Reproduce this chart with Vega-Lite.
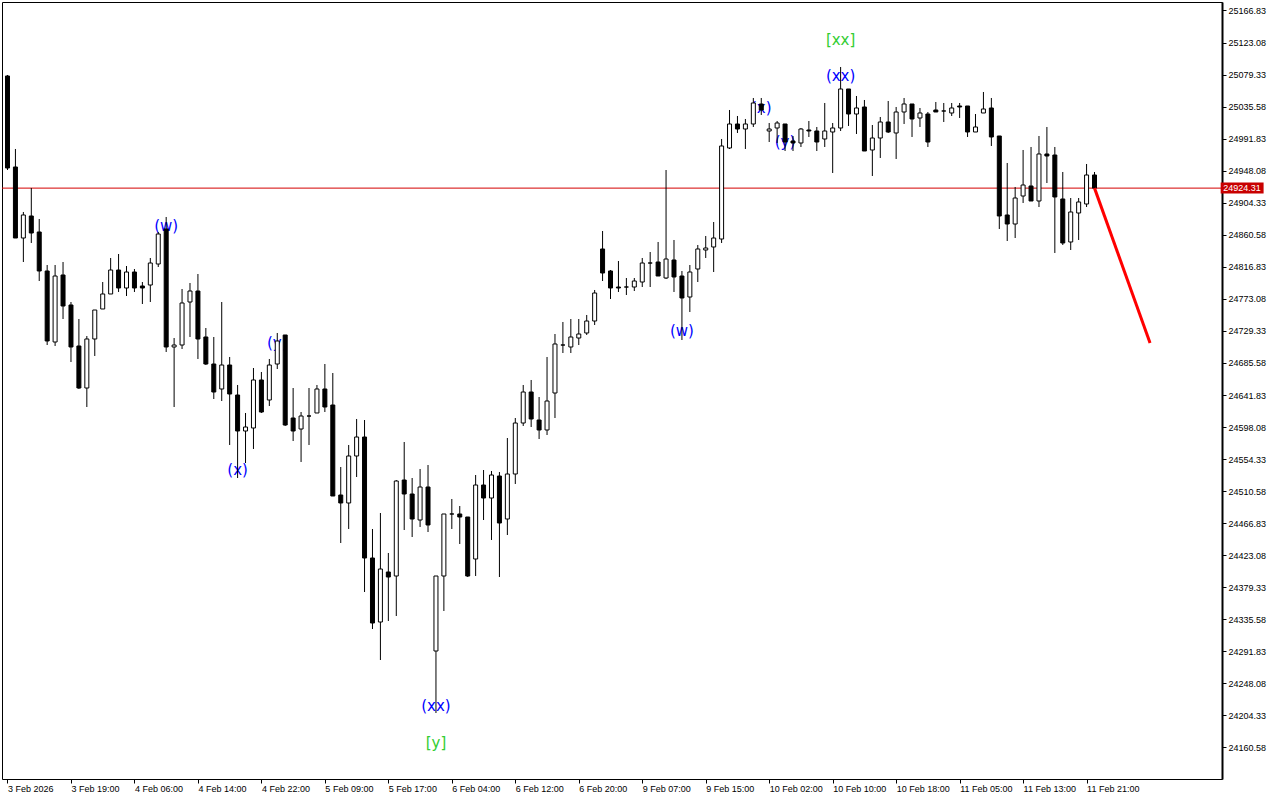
{
  "$schema": "https://vega.github.io/schema/vega-lite/v6.json",
  "autosize": "none",
  "width": 1220,
  "height": 777,
  "padding": {"left": 2, "top": 2, "right": 58, "bottom": 21},
  "background": "white",
  "config": {
    "view": {"stroke": "black", "strokeWidth": 1},
    "axis": {"labelOverlap": false, "labelFlush": false, "labelBound": false, "grid": false, "title": null}
  },
  "datasets": {
    "candles": [
      {"k":0,"o":25077.40,"h":25078.76,"l":24949.05,"c":24951.78},
      {"k":1,"o":24953.15,"h":24977.73,"l":24856.20,"c":24856.20},
      {"k":2,"o":24856.20,"h":24891.71,"l":24823.43,"c":24887.61},
      {"k":3,"o":24886.25,"h":24924.48,"l":24849.38,"c":24863.03},
      {"k":4,"o":24864.40,"h":24882.15,"l":24797.49,"c":24811.15},
      {"k":5,"o":24811.15,"h":24819.34,"l":24710.11,"c":24715.58},
      {"k":6,"o":24714.21,"h":24819.34,"l":24708.75,"c":24804.32},
      {"k":7,"o":24805.69,"h":24823.43,"l":24745.61,"c":24763.36},
      {"k":8,"o":24764.73,"h":24768.82,"l":24686.90,"c":24707.39},
      {"k":9,"o":24708.75,"h":24745.61,"l":24650.04,"c":24651.40},
      {"k":10,"o":24651.40,"h":24722.40,"l":24625.46,"c":24718.31},
      {"k":11,"o":24718.31,"h":24757.90,"l":24695.10,"c":24757.90},
      {"k":12,"o":24759.27,"h":24796.13,"l":24759.27,"c":24779.75},
      {"k":13,"o":24779.75,"h":24828.90,"l":24779.75,"c":24812.51},
      {"k":14,"o":24812.51,"h":24834.36,"l":24782.48,"c":24787.94},
      {"k":15,"o":24787.94,"h":24817.97,"l":24777.01,"c":24809.78},
      {"k":16,"o":24809.78,"h":24813.88,"l":24782.48,"c":24787.94},
      {"k":17,"o":24790.67,"h":24796.13,"l":24766.09,"c":24787.94},
      {"k":18,"o":24792.03,"h":24828.90,"l":24768.82,"c":24822.07},
      {"k":19,"o":24820.70,"h":24864.40,"l":24816.61,"c":24861.67},
      {"k":20,"o":24868.50,"h":24884.88,"l":24700.56,"c":24707.39},
      {"k":21,"o":24707.39,"h":24719.67,"l":24625.46,"c":24710.11},
      {"k":22,"o":24710.11,"h":24786.57,"l":24704.65,"c":24767.46},
      {"k":23,"o":24768.82,"h":24794.76,"l":24721.04,"c":24783.84},
      {"k":24,"o":24783.84,"h":24807.05,"l":24691.00,"c":24718.31},
      {"k":25,"o":24721.04,"h":24733.32,"l":24682.80,"c":24684.17},
      {"k":26,"o":24684.17,"h":24721.04,"l":24636.38,"c":24645.94},
      {"k":27,"o":24650.04,"h":24768.82,"l":24633.65,"c":24682.80},
      {"k":28,"o":24682.80,"h":24693.73,"l":24573.58,"c":24643.21},
      {"k":29,"o":24641.84,"h":24655.50,"l":24528.52,"c":24592.69},
      {"k":30,"o":24592.69,"h":24617.27,"l":24549.00,"c":24598.15},
      {"k":31,"o":24596.79,"h":24678.71,"l":24568.12,"c":24662.33},
      {"k":32,"o":24662.33,"h":24673.25,"l":24617.27,"c":24618.63},
      {"k":33,"o":24635.02,"h":24691.00,"l":24626.83,"c":24682.80},
      {"k":34,"o":24684.17,"h":24726.50,"l":24677.34,"c":24715.58},
      {"k":35,"o":24723.77,"h":24723.77,"l":24599.52,"c":24600.88},
      {"k":36,"o":24610.44,"h":24651.40,"l":24579.03,"c":24592.69},
      {"k":37,"o":24595.42,"h":24618.63,"l":24550.37,"c":24613.17},
      {"k":38,"o":24613.17,"h":24651.40,"l":24573.58,"c":24613.17},
      {"k":39,"o":24617.27,"h":24655.50,"l":24617.27,"c":24650.04},
      {"k":40,"o":24650.04,"h":24684.17,"l":24618.63,"c":24625.46},
      {"k":41,"o":24628.19,"h":24671.88,"l":24503.94,"c":24503.94},
      {"k":42,"o":24505.31,"h":24543.54,"l":24439.77,"c":24494.39},
      {"k":43,"o":24494.39,"h":24573.58,"l":24458.89,"c":24558.56},
      {"k":44,"o":24558.56,"h":24609.08,"l":24529.88,"c":24584.50},
      {"k":45,"o":24584.50,"h":24607.71,"l":24372.87,"c":24419.29},
      {"k":46,"o":24419.29,"h":24458.89,"l":24322.35,"c":24330.54},
      {"k":47,"o":24331.91,"h":24480.73,"l":24280.02,"c":24404.27},
      {"k":48,"o":24400.18,"h":24426.12,"l":24333.27,"c":24393.35},
      {"k":49,"o":24394.71,"h":24525.79,"l":24340.10,"c":24524.42},
      {"k":50,"o":24525.79,"h":24577.67,"l":24457.52,"c":24506.67},
      {"k":51,"o":24506.67,"h":24528.52,"l":24447.96,"c":24472.54},
      {"k":52,"o":24471.17,"h":24540.81,"l":24461.62,"c":24516.23},
      {"k":53,"o":24516.23,"h":24546.27,"l":24454.79,"c":24464.35},
      {"k":54,"o":24292.31,"h":24394.71,"l":24207.66,"c":24394.71},
      {"k":55,"o":24394.71,"h":24479.37,"l":24346.93,"c":24479.37},
      {"k":56,"o":24479.37,"h":24499.85,"l":24458.89,"c":24479.37},
      {"k":57,"o":24479.37,"h":24490.29,"l":24438.40,"c":24475.27},
      {"k":58,"o":24475.27,"h":24475.27,"l":24393.35,"c":24394.71},
      {"k":59,"o":24417.92,"h":24532.61,"l":24394.71,"c":24518.96},
      {"k":60,"o":24518.96,"h":24539.44,"l":24471.17,"c":24501.21},
      {"k":61,"o":24501.21,"h":24538.08,"l":24443.87,"c":24532.61},
      {"k":62,"o":24531.25,"h":24536.71,"l":24393.35,"c":24467.08},
      {"k":63,"o":24472.54,"h":24583.13,"l":24450.69,"c":24533.98},
      {"k":64,"o":24533.98,"h":24610.44,"l":24520.33,"c":24603.61},
      {"k":65,"o":24603.61,"h":24655.50,"l":24599.52,"c":24645.94},
      {"k":66,"o":24645.94,"h":24662.33,"l":24598.15,"c":24609.08},
      {"k":67,"o":24607.71,"h":24639.11,"l":24581.77,"c":24594.06},
      {"k":68,"o":24594.06,"h":24693.73,"l":24587.23,"c":24633.65},
      {"k":69,"o":24644.57,"h":24725.13,"l":24610.44,"c":24711.48},
      {"k":70,"o":24710.11,"h":24741.52,"l":24699.19,"c":24710.11},
      {"k":71,"o":24707.39,"h":24745.61,"l":24699.19,"c":24721.04},
      {"k":72,"o":24719.67,"h":24745.61,"l":24710.11,"c":24725.13},
      {"k":73,"o":24726.50,"h":24751.08,"l":24723.77,"c":24742.88},
      {"k":74,"o":24742.88,"h":24785.21,"l":24737.42,"c":24781.11},
      {"k":75,"o":24841.19,"h":24865.76,"l":24797.49,"c":24808.42},
      {"k":76,"o":24811.15,"h":24812.51,"l":24772.92,"c":24787.94},
      {"k":77,"o":24789.30,"h":24824.80,"l":24782.48,"c":24787.94},
      {"k":78,"o":24789.30,"h":24801.59,"l":24778.38,"c":24789.30},
      {"k":79,"o":24789.30,"h":24801.59,"l":24783.84,"c":24797.49},
      {"k":80,"o":24796.13,"h":24828.90,"l":24789.30,"c":24822.07},
      {"k":81,"o":24822.07,"h":24837.09,"l":24789.30,"c":24822.07},
      {"k":82,"o":24823.43,"h":24850.75,"l":24804.32,"c":24804.32},
      {"k":83,"o":24801.59,"h":24949.05,"l":24800.23,"c":24827.53},
      {"k":84,"o":24826.17,"h":24853.48,"l":24782.48,"c":24802.96},
      {"k":85,"o":24804.32,"h":24811.15,"l":24716.94,"c":24774.29},
      {"k":86,"o":24775.65,"h":24819.34,"l":24755.17,"c":24809.78},
      {"k":87,"o":24813.88,"h":24846.65,"l":24796.13,"c":24841.19},
      {"k":88,"o":24839.82,"h":24858.94,"l":24828.90,"c":24842.55},
      {"k":89,"o":24843.92,"h":24878.05,"l":24809.78,"c":24856.20},
      {"k":90,"o":24854.84,"h":24991.38,"l":24849.38,"c":24981.82},
      {"k":91,"o":24979.09,"h":25030.98,"l":24977.73,"c":25011.86},
      {"k":92,"o":25011.86,"h":25022.78,"l":24999.57,"c":25005.03},
      {"k":93,"o":25005.03,"h":25018.69,"l":24977.73,"c":25011.86},
      {"k":94,"o":25011.86,"h":25047.36,"l":25007.77,"c":25040.53},
      {"k":95,"o":25039.17,"h":25047.36,"l":25024.15,"c":25030.98},
      {"k":96,"o":25002.30,"h":25013.23,"l":24987.28,"c":25005.03},
      {"k":97,"o":25006.40,"h":25015.96,"l":24985.92,"c":25013.23},
      {"k":98,"o":25011.86,"h":25011.86,"l":24974.99,"c":24987.28},
      {"k":99,"o":24988.65,"h":24995.48,"l":24974.99,"c":24985.92},
      {"k":100,"o":24985.92,"h":25006.40,"l":24980.46,"c":25005.03},
      {"k":101,"o":25003.67,"h":25015.96,"l":24994.11,"c":25002.30},
      {"k":102,"o":25002.30,"h":25007.77,"l":24974.99,"c":24987.28},
      {"k":103,"o":24991.38,"h":25040.53,"l":24980.46,"c":25002.30},
      {"k":104,"o":25000.94,"h":25013.23,"l":24944.96,"c":25006.40},
      {"k":105,"o":25006.40,"h":25089.69,"l":25002.30,"c":25059.65},
      {"k":106,"o":25059.65,"h":25059.65,"l":25009.13,"c":25025.51},
      {"k":107,"o":25025.51,"h":25050.09,"l":24998.21,"c":25033.71},
      {"k":108,"o":25035.07,"h":25044.63,"l":24974.99,"c":24974.99},
      {"k":109,"o":24976.36,"h":25010.50,"l":24940.86,"c":24992.74},
      {"k":110,"o":24992.74,"h":25021.42,"l":24965.44,"c":25014.59},
      {"k":111,"o":25014.59,"h":25043.26,"l":24999.57,"c":25000.94},
      {"k":112,"o":24999.57,"h":25035.07,"l":24964.07,"c":25028.25},
      {"k":113,"o":25028.25,"h":25047.36,"l":25011.86,"c":25039.17},
      {"k":114,"o":25039.17,"h":25039.17,"l":24994.11,"c":25018.69},
      {"k":115,"o":25020.05,"h":25033.71,"l":25007.77,"c":25026.88},
      {"k":116,"o":25025.51,"h":25028.25,"l":24980.46,"c":24987.28},
      {"k":117,"o":25030.98,"h":25041.90,"l":25028.25,"c":25028.25},
      {"k":118,"o":25029.61,"h":25040.53,"l":25014.59,"c":25029.61},
      {"k":119,"o":25026.88,"h":25040.53,"l":25022.78,"c":25033.71},
      {"k":120,"o":25036.44,"h":25040.53,"l":25020.05,"c":25035.07},
      {"k":121,"o":25036.44,"h":25036.44,"l":24994.11,"c":25000.94},
      {"k":122,"o":25000.94,"h":25025.51,"l":25000.94,"c":25007.77},
      {"k":123,"o":25026.88,"h":25055.55,"l":25026.88,"c":25032.34},
      {"k":124,"o":25033.71,"h":25047.36,"l":24981.82,"c":24994.11},
      {"k":125,"o":24995.48,"h":24995.48,"l":24868.50,"c":24886.25},
      {"k":126,"o":24887.61,"h":24958.61,"l":24852.11,"c":24875.32},
      {"k":127,"o":24875.32,"h":24925.84,"l":24856.20,"c":24910.82},
      {"k":128,"o":24913.55,"h":24976.36,"l":24904.00,"c":24928.57},
      {"k":129,"o":24927.21,"h":24980.46,"l":24906.73,"c":24906.73},
      {"k":130,"o":24906.73,"h":24995.48,"l":24898.53,"c":24970.90},
      {"k":131,"o":24970.90,"h":25007.77,"l":24931.30,"c":24968.17},
      {"k":132,"o":24969.53,"h":24980.46,"l":24835.73,"c":24912.19},
      {"k":133,"o":24909.46,"h":24946.32,"l":24846.65,"c":24849.38},
      {"k":134,"o":24850.75,"h":24910.82,"l":24839.82,"c":24891.71},
      {"k":135,"o":24890.34,"h":24910.82,"l":24853.48,"c":24905.36},
      {"k":136,"o":24902.63,"h":24957.25,"l":24898.53,"c":24942.23},
      {"k":137,"o":24942.23,"h":24946.32,"l":24924.31,"c":24924.31}
    ],
    "waves": [
      {"k":20,"p":24872.59,"label":"(w)","degree":"minor"},
      {"k":29,"p":24539.44,"label":"(x)","degree":"minor"},
      {"k":34,"p":24712.84,"label":"(y)","degree":"minor"},
      {"k":54,"p":24217.22,"label":"(xx)","degree":"minor"},
      {"k":54,"p":24166.70,"label":"[y]","degree":"major"},
      {"k":85,"p":24729.23,"label":"(w)","degree":"minor"},
      {"k":95,"p":25033.71,"label":"(x)","degree":"minor"},
      {"k":98,"p":24987.28,"label":"(y)","degree":"minor"},
      {"k":105,"p":25077.40,"label":"(xx)","degree":"minor"},
      {"k":105,"p":25126.55,"label":"[xx]","degree":"major"}
    ],
    "bid": [{"price": 24924.31}],
    "proj": [
      {"k":137,"p":24924.31},
      {"k":144,"p":24712.84}
    ]
  },
  "encoding": {
    "x": {"type": "quantitative",
          "scale": {"domain": [-0.0625, 152.4375], "nice": false, "zero": false},
          "axis": {
            "orient": "bottom", "title": null,
            "values": [0,8,16,24,32,40,48,56,64,72,80,88,96,104,112,120,128,136],
            "labelExpr": "['3 Feb 2026','3 Feb 19:00','4 Feb 06:00','4 Feb 14:00','4 Feb 22:00','5 Feb 09:00','5 Feb 17:00','6 Feb 04:00','6 Feb 12:00','6 Feb 20:00','9 Feb 07:00','9 Feb 15:00','10 Feb 02:00','10 Feb 10:00','10 Feb 18:00','11 Feb 05:00','11 Feb 13:00','11 Feb 21:00'][round(datum.value/8)]",
            "labelAlign": "left", "labelBaseline": "top", "labelPadding": 1,
            "labelFont": "Liberation Sans", "labelFontSize": 9, "labelColor": "black",
            "labelOverlap": false, "labelFlush": false, "labelBound": false,
            "tickSize": 4, "tickColor": "black", "domain": false, "grid": false
          }},
    "y": {"type": "quantitative",
          "scale": {"domain": [24117.55, 25178.43], "nice": false, "zero": false},
          "axis": {
            "orient": "right", "title": null,
            "values": [25166.83,25123.08,25079.33,25035.58,24991.83,24948.08,24904.33,24860.58,24816.83,24773.08,24729.33,24685.58,24641.83,24598.08,24554.33,24510.58,24466.83,24423.08,24379.33,24335.58,24291.83,24248.08,24204.33,24160.58],
            "format": ".2f",
            "labelFont": "Liberation Sans", "labelFontSize": 9, "labelColor": "black",
            "labelPadding": 2, "labelOverlap": false, "labelFlush": false, "labelBound": false,
            "tickSize": 4, "tickColor": "black",
            "domain": true, "domainColor": "black", "domainWidth": 2, "grid": false
          }}
  },
  "layer": [
    {
      "data": {"name": "waves"},
      "mark": {"type": "text", "font": "DejaVu Sans", "fontSize": 15, "align": "center", "baseline": "middle"},
      "encoding": {
        "x": {"field": "k"},
        "y": {"field": "p"},
        "text": {"field": "label"},
        "color": {"field": "degree", "type": "nominal",
                  "scale": {"domain": ["minor", "major"], "range": ["#0000ff", "#32cd32"]},
                  "legend": null}
      }
    },
    {
      "data": {"name": "bid"},
      "mark": {"type": "rule", "color": "#d40000", "strokeWidth": 1},
      "encoding": {"x": null, "y": {"field": "price"}}
    },
    {
      "data": {"name": "candles"},
      "mark": {"type": "rule", "color": "black", "strokeWidth": 1},
      "encoding": {
        "x": {"field": "k"},
        "y": {"field": "l"},
        "y2": {"field": "h"}
      }
    },
    {
      "data": {"name": "candles"},
      "mark": {"type": "bar", "width": 4, "stroke": "black", "strokeWidth": 1},
      "encoding": {
        "x": {"field": "k"},
        "y": {"field": "o"},
        "y2": {"field": "c"},
        "fill": {"condition": {"test": "datum.c < datum.o", "value": "black"}, "value": "white"}
      }
    },
    {
      "data": {"name": "proj"},
      "mark": {"type": "line", "color": "#ff0000", "strokeWidth": 3},
      "encoding": {
        "x": {"field": "k"},
        "y": {"field": "p"}
      }
    },
    {
      "data": {"name": "bid"},
      "mark": {"type": "rule", "color": "#c80000", "strokeWidth": 11, "clip": false},
      "encoding": {
        "x": {"datum": 152.9},
        "x2": {"datum": 158.31},
        "y": {"field": "price"}
      }
    },
    {
      "data": {"name": "bid"},
      "mark": {"type": "text", "color": "white", "font": "Liberation Sans", "fontSize": 9, "align": "center", "baseline": "middle", "clip": false},
      "encoding": {
        "x": {"datum": 155.6},
        "y": {"field": "price"},
        "text": {"field": "price", "type": "quantitative", "format": ".2f"}
      }
    }
  ]
}
